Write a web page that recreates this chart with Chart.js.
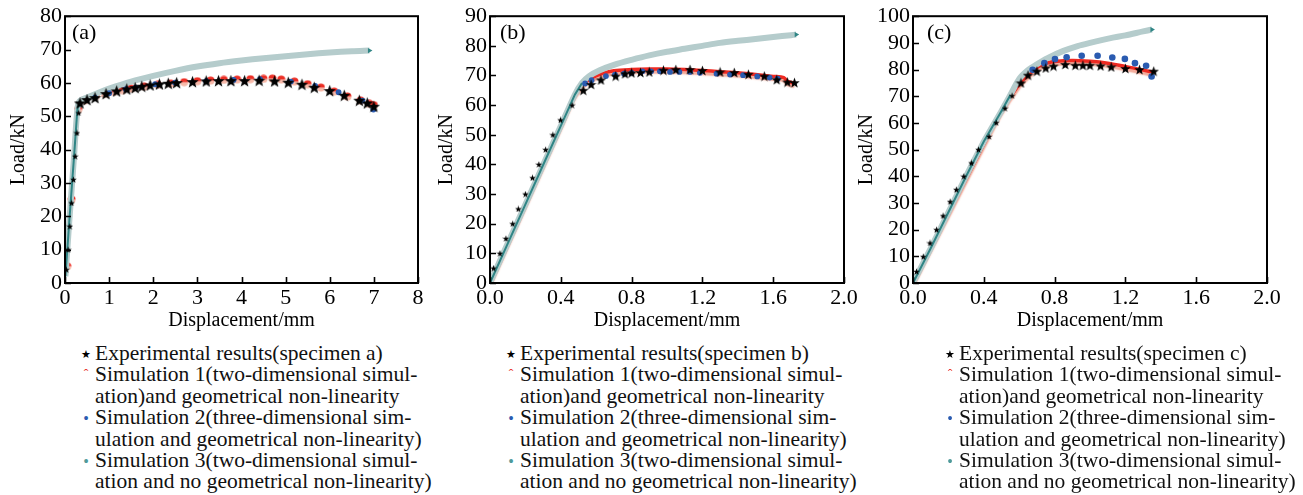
<!DOCTYPE html>
<html><head><meta charset="utf-8">
<script src="https://cdn.jsdelivr.net/npm/chart.js@4.4.1/dist/chart.umd.min.js"></script>
<style>
html,body{margin:0;padding:0;background:#fff;}
body{width:1303px;height:495px;overflow:hidden;position:relative;font-family:'Liberation Serif','Times New Roman',serif;}
.panel{position:absolute;top:0;height:340px;}
.legend{position:absolute;top:343px;font-size:21.5px;line-height:21.4px;color:#111;white-space:nowrap;}
.legend .row{position:relative;padding-left:15px;}
.legend .mk{position:absolute;left:0;top:0;width:12px;text-align:center;}
</style>
</head><body>
<div class="panel" style="left:0;width:430px"><canvas id="ca"></canvas></div>
<div class="panel" style="left:430px;width:430px"><canvas id="cb"></canvas></div>
<div class="panel" style="left:850px;width:453px"><canvas id="cc"></canvas></div>
<div class="legend" id="la" style="left:80px"></div>
<div class="legend" id="lb" style="left:505px"></div>
<div class="legend" id="lc" style="left:944px"></div>
<script>
// ---------------- DATA ----------------
const panelLabels = ['(a)', '(b)', '(c)'];
const specimens = ['a', 'b', 'c'];
const xTitle = 'Displacement/mm';
const yTitle = 'Load/kN';

// Panel (a)
const expA = [[0.03,4],[0.07,10],[0.11,17],[0.15,24],[0.19,31],[0.23,38],[0.27,45],[0.31,51],[0.34,54],[0.5,55],[0.68,55.6],[0.93,56.8],[1.17,57.6],[1.4,58.2],[1.59,58.6],[1.74,59],[1.93,59.4],[2.14,59.7],[2.34,59.9],[2.53,60.1],[2.89,60.4],[3.2,60.6],[3.48,60.7],[3.76,60.7],[4.07,60.7],[4.4,60.8],[4.75,60.6],[5.06,60.2],[5.37,59.6],[5.65,58.7],[6.0,57.7],[6.33,56.3],[6.67,54.8],[6.85,54],[7.0,53]];
const sim1A = [[0.05,5],[0.15,25],[0.3,52],[0.45,54.8],[0.7,56],[0.9,56.7],[1.1,57.3],[1.3,57.8],[1.5,58.3],[1.8,58.9],[2.1,59.4],[2.4,59.8],[2.7,60.2],[3.0,60.5],[3.3,60.7],[3.6,60.9],[3.9,61],[4.2,61.1],[4.5,61.2],[4.7,61.3],[4.9,61],[5.2,60.4],[5.5,59.6],[5.8,58.6],[6.1,57.4],[6.4,55.9],[6.7,54.7],[6.9,53.7],[7.0,53.3]];
const sim2A = [[0.68,55.6],[1.0,56.9],[1.38,58.1],[1.6,58.6],[2.04,59.6],[2.49,60.1],[3.2,60.5],[3.82,60.9],[4.42,61.1],[5.12,60.4],[5.67,59.1],[6.2,57.2],[6.74,54.7],[6.99,52.0]];
const sim3A = [[0.01,2],[0.1,19],[0.2,37],[0.28,52],[0.33,54.5],[0.5,55.6],[0.8,57.3],[1.0,58.3],[1.5,60.4],[2.0,62.1],[2.5,63.6],[3.0,64.9],[3.5,65.9],[4.0,66.7],[4.5,67.4],[5.0,68.0],[5.5,68.6],[6.0,69.1],[6.5,69.5],[6.9,69.7]];

// Panel (b)
const expB = [[0.02,5],[0.056,10],[0.09,15],[0.128,20],[0.16,25],[0.2,30],[0.24,35.5],[0.276,40],[0.314,45],[0.355,50],[0.398,55],[0.464,60],[0.527,65],[0.571,67],[0.627,68.5],[0.71,69.8],[0.763,70.6],[0.8,70.9],[0.85,71],[0.9,71.2],[0.98,71.8],[1.05,72],[1.13,72],[1.2,71.7],[1.3,71.2],[1.38,71],[1.46,70.4],[1.55,69.8],[1.62,68.6],[1.68,67.8],[1.72,67.6]];
const sim1B = [[0,0],[0.2,26.5],[0.4,53],[0.48,63.5],[0.53,67.3],[0.58,69.3],[0.64,70.8],[0.7,71.6],[0.8,72],[0.9,72.2],[1.0,72.2],[1.1,72],[1.2,71.7],[1.3,71.3],[1.4,70.9],[1.5,70.3],[1.6,69.7],[1.66,69.3],[1.68,68],[1.72,67.4]];
const sim2B = [[0.537,67.3],[0.574,68.4],[0.655,69.8],[0.706,70.3],[0.757,70.6],[0.8,70.9],[0.861,71.4],[0.91,71.4],[0.96,71.4],[1.017,71.2],[1.07,71.2],[1.13,71.2],[1.186,70.9],[1.28,70.6],[1.356,70.3],[1.43,70.1],[1.51,69.7],[1.58,69.3],[1.625,68.9]];
const sim3B = [[0,0],[0.1,13.3],[0.2,26.5],[0.3,39.8],[0.4,53],[0.48,63.6],[0.52,67.5],[0.56,69.8],[0.62,71.8],[0.7,73.6],[0.8,75.3],[0.9,76.8],[1.0,78],[1.1,79],[1.2,80],[1.3,81],[1.4,81.7],[1.5,82.3],[1.6,83],[1.7,83.6],[1.73,83.8]];

// Panel (c)
const expC = [[0.02,4.3],[0.058,9.9],[0.096,15],[0.133,20],[0.17,25.2],[0.21,30.5],[0.245,35],[0.287,40],[0.33,45],[0.37,50],[0.43,54.9],[0.47,60.1],[0.52,65.5],[0.56,70.2],[0.61,75],[0.65,77.9],[0.7,79.4],[0.75,80.6],[0.794,81.3],[0.86,81.9],[0.917,81.6],[0.96,81.6],[1.0,81.6],[1.06,81.4],[1.12,81],[1.2,80.4],[1.28,80],[1.36,79.4]];
const sim1C = [[0,0],[0.2,26],[0.4,52],[0.5,64.5],[0.6,74.5],[0.65,78],[0.7,80.8],[0.75,82.3],[0.8,83],[0.9,83.4],[1.0,83.1],[1.1,82.4],[1.2,81.2],[1.3,79.8],[1.36,79]];
const sim2C = [[0.676,79.9],[0.742,82.4],[0.802,83.9],[0.868,84.6],[0.953,85.2],[1.043,85.2],[1.126,84.5],[1.197,84],[1.254,82.4],[1.317,81.4],[1.348,77.4]];
const sim3C = [[0,0],[0.1,13],[0.2,26.5],[0.3,40],[0.4,53],[0.5,64.5],[0.55,70.5],[0.6,76.5],[0.65,79.8],[0.7,82],[0.76,84.3],[0.85,87],[0.93,88.8],[1.0,90],[1.11,91.7],[1.2,92.8],[1.3,94.3],[1.35,95]];

// axis ranges / ticks
const xMaxes = [8, 2, 2];
const xSteps = [1, 0.4, 0.4];
const xDecimals = [0, 1, 1];
const yMaxes = [80, 90, 100];
const yStep = 10;

// legend texts (lines)
const legendTexts = [
  ['Experimental results(specimen #)'],
  ['Simulation 1(two-dimensional simul-', 'ation)and geometrical non-linearity'],
  ['Simulation 2(three-dimensional sim-', 'ulation and geometrical non-linearity)'],
  ['Simulation 3(two-dimensional simul-', 'ation and no geometrical non-linearity)']
];

// ---------------- STYLE ----------------
Chart.defaults.font.family = "'Liberation Serif','Times New Roman',serif";
Chart.defaults.color = '#000';

function starCanvas(size){
  const c = document.createElement('canvas'); c.width = c.height = size;
  const g = c.getContext('2d'); g.fillStyle = '#000'; g.beginPath();
  for (let i = 0; i < 10; i++) {
    const r = i % 2 ? size * 0.21 : size * 0.5;
    const a = -Math.PI / 2 + i * Math.PI / 5;
    g.lineTo(size / 2 + r * Math.cos(a), size / 2 + 0.05 * size + r * Math.sin(a));
  }
  g.closePath(); g.fill(); return c;
}
function halfDisc(size){
  const c = document.createElement('canvas'); c.width = c.height = size;
  const g = c.getContext('2d');
  g.fillStyle = '#f6b9a9'; g.beginPath(); g.arc(size/2, size/2, size/2 - 0.5, 0, Math.PI); g.fill();
  g.fillStyle = '#ec2f25'; g.beginPath(); g.arc(size/2, size/2, size/2 - 0.5, Math.PI, 2*Math.PI); g.fill();
  return c;
}
const bigStar = starCanvas(13), midStar = starCanvas(11), smallStar = starCanvas(7);
const redMark = halfDisc(9);

const frameLabel = {
  id: 'frameLabel',
  beforeDatasetDraw(chart, args) {
    if (args.meta.label === 'sim1' && args.meta.dataset && chart.data.datasets[args.index].showLine) {
      const ctx = chart.ctx; ctx.save();
      ctx.shadowColor = 'rgba(240,150,130,0.85)'; ctx.shadowOffsetY = 3; ctx.shadowBlur = 1.5;
      this._shadow = true;
    }
  },
  afterDatasetDraw(chart, args) {
    if (this._shadow) { chart.ctx.restore(); this._shadow = false; }
  },
  afterDraw(chart, args, opts) {
    const {ctx, chartArea: a, scales: {x, y}} = chart;
    ctx.save();
    ctx.strokeStyle = '#000'; ctx.lineWidth = 2;
    ctx.strokeRect(a.left, a.top, a.right - a.left, a.bottom - a.top);
    ctx.beginPath();
    x.ticks.forEach(t => { const p = Math.round(x.getPixelForValue(t.value)) + 0.5; ctx.moveTo(p, a.bottom); ctx.lineTo(p, a.bottom - 6); });
    y.ticks.forEach(t => { const p = Math.round(y.getPixelForValue(t.value)) + 0.5; ctx.moveTo(a.left, p); ctx.lineTo(a.left + 6, p); });
    ctx.lineWidth = 1.6; ctx.stroke();
    ctx.font = "22px 'Liberation Serif','Times New Roman',serif";
    ctx.fillStyle = '#000'; ctx.textBaseline = 'middle';
    ctx.fillText(opts.text, a.left + opts.dx, a.top + 17);
    ctx.restore();
  }
};

const pts = arr => arr.map(p => ({x: p[0], y: p[1]}));

function makePanel(i, canvasId, exp, s1, s2, s3, geo) {
  const cv = document.getElementById(canvasId);
  const lastIdx = s3.length - 1;
  const datasets = [
    { label: 'exp', data: pts(exp), showLine: false,
      pointStyle: ctx => (ctx.raw && ctx.raw.y < geo.smallBelow) ? smallStar : (i === 0 ? bigStar : midStar),
      pointRadius: 5 },
    { label: 'sim2', data: pts(s2), showLine: false, pointStyle: 'circle', pointRadius: i === 2 ? 3.3 : 2.9,
      pointBackgroundColor: '#2a5bb0', pointBorderWidth: 0 },
    { label: 'sim3core', data: pts(s3.slice(0, geo.coreN)), showLine: true, borderColor: '#2f8585', borderWidth: 2, pointRadius: 0 },
    { label: 'sim3', data: pts(s3), showLine: true, borderColor: '#b5cccc', borderWidth: 6, tension: 0.3,
      pointStyle: 'triangle', rotation: 90, pointBackgroundColor: '#2f8585', pointBorderWidth: 0,
      pointRadius: ctx => ctx.dataIndex === lastIdx ? 3 : 0 },
    i === 0
      ? { label: 'sim1', data: pts(s1), showLine: false, pointStyle: redMark, pointRadius: 4 }
      : { label: 'sim1', data: pts(s1), showLine: true, borderColor: '#ee2a22', borderWidth: 3.5, pointRadius: 0, tension: 0.3 }
  ];
  return new Chart(cv, {
    type: 'scatter',
    data: { datasets },
    options: {
      responsive: true, maintainAspectRatio: false, animation: false,
      layout: { padding: { left: 0, right: geo.padRight, top: 14, bottom: 0 } },
      plugins: { legend: { display: false }, tooltip: { enabled: false }, frameLabel: { text: panelLabels[i], dx: geo.labelDx } },
      scales: {
        x: { type: 'linear', min: 0, max: xMaxes[i],
          grid: { display: false, drawTicks: false }, border: { display: false },
          ticks: { stepSize: xSteps[i], autoSkip: false, maxRotation: 0, padding: 2, font: { size: 22 }, color: '#000',
            callback: v => Number(v).toFixed(xDecimals[i]) },
          title: { display: true, text: xTitle, font: { size: 20 }, color: '#000', padding: { top: 0, bottom: 7 } },
          afterFit: s => { s.height = 57; } },
        y: { type: 'linear', min: 0, max: yMaxes[i],
          grid: { display: false, drawTicks: false }, border: { display: false },
          ticks: { stepSize: yStep, autoSkip: false, padding: 3, font: { size: 22 }, color: '#000' },
          title: { display: true, text: yTitle, font: { size: 20 }, color: '#000', padding: { top: geo.yTitlePad, bottom: 0 } },
          afterFit: s => { s.width = geo.yWidth; } }
      }
    },
    plugins: [frameLabel]
  });
}

makePanel(0, 'ca', expA, sim1A, sim2A, sim3A, { yWidth: 65, padRight: 12, labelDx: 7, yTitlePad: 7, smallBelow: 53, coreN: 5 });
makePanel(1, 'cb', expB, sim1B, sim2B, sim3B, { yWidth: 60, padRight: 16, labelDx: 10, yTitlePad: 5, smallBelow: 62, coreN: 7 });
makePanel(2, 'cc', expC, sim1C, sim2C, sim3C, { yWidth: 63, padRight: 36, labelDx: 14, yTitlePad: 5, smallBelow: 72, coreN: 7 });

// ---------------- LEGENDS ----------------
const markerHTML = [
  '<span style="font-size:11px;color:#000;position:relative;top:-2px">&#9733;</span>',
  '<span style="font-size:14px;color:#e8332b;position:relative;top:-2px">&#710;</span>',
  '<span style="font-size:16px;color:#2a5bb0">&#8226;</span>',
  '<span style="font-size:16px;color:#4f9a9a">&#8226;</span>'
];
['la','lb','lc'].forEach((id, i) => {
  const el = document.getElementById(id);
  let html = '';
  legendTexts.forEach((lines, k) => {
    lines.forEach((t, j) => {
      const txt = t.replace('#', specimens[i]);
      html += '<div class="row">' + (j === 0 ? '<span class="mk">' + markerHTML[k] + '</span>' : '') + txt + '</div>';
    });
  });
  el.innerHTML = html;
});
</script>
</body></html>
